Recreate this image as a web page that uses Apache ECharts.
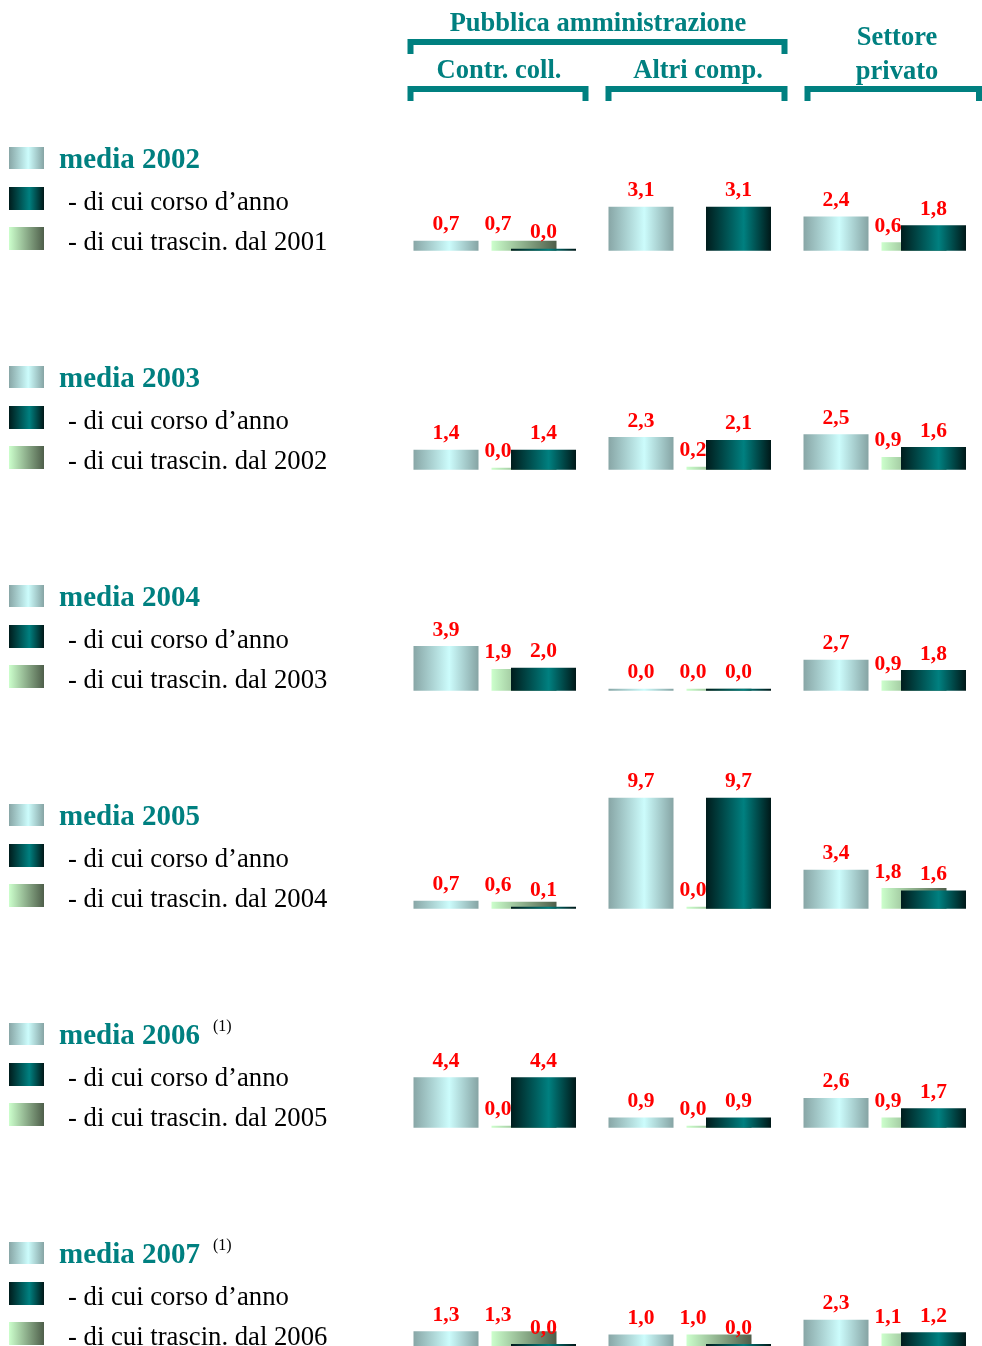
<!DOCTYPE html>
<html>
<head>
<meta charset="utf-8">
<script src="https://cdn.jsdelivr.net/npm/echarts@6/dist/echarts.min.js"></script>
<style>
    html, body { margin: 0; padding: 0; background: #ffffff; }
    #chart { width: 982px; height: 1346px; }
</style>
</head>
<body>
<div id="chart"></div>
<script>
var years = ['2002', '2003', '2004', '2005', '2006', '2007'];
var categories = ['Contr. coll.', 'Altri comp.', 'Settore privato'];
// per anno: [Contr. coll., Altri comp., Settore privato]
var media = [[0.7, 3.1, 2.4], [1.4, 2.3, 2.5], [3.9, 0.0, 2.7], [0.7, 9.7, 3.4], [4.4, 0.9, 2.6], [1.3, 1.0, 2.3]];
var corsoAnno = [[0.0, 3.1, 1.8], [1.4, 2.1, 1.6], [2.0, 0.0, 1.8], [0.1, 9.7, 1.6], [4.4, 0.9, 1.7], [0.0, 0.0, 1.2]];
var trascinamento = [[0.7, null, 0.6], [0.0, 0.2, 0.9], [1.9, 0.0, 0.9], [0.6, 0.0, 1.8], [0.0, 0.0, 0.9], [1.3, 1.0, 1.1]];
var notes = ['', '', '', '', '(1)', '(1)'];

var teal = '#008080';
var serif = "'Liberation Serif', 'Times New Roman', serif";

function grad(stops) {
    return new echarts.graphic.LinearGradient(0, 0, 1, 0, stops.map(function (s) {
        return {offset: s[0], color: s[1]};
    }));
}
var mediaColor = [[0, '#88a6a6'], [0.55, '#ccfcfc'], [1, '#86a4a4']];
var corsoColor = [[0, '#001c1c'], [0.58, '#008080'], [1, '#001818']];
var trascinColor = [[0, '#ccffcc'], [1, '#4e5e4a']];

var baselines = [250.7, 469.7, 690.7, 908.7, 1127.7, 1346.7];
var rowHeights = [142, 142, 114.5, 114.5, 114.5, 114.5];

function fmt(p) {
    return p.value == null ? '' : p.value.toFixed(1).replace('.', ',');
}

var grids = [], xAxes = [], yAxes = [], series = [], graphics = [];

years.forEach(function (year, r) {
    // left = centro della prima barra; le categorie stanno sui tick (boundaryGap false)
    var layers = [
        {name: 'media ' + year, data: media[r], left: 446, color: mediaColor, dx: 0},
        {name: 'trascin. dal ' + (year - 1), data: trascinamento[r], left: 524, color: trascinColor, dx: -26},
        {name: 'corso d\u2019anno', data: corsoAnno[r], left: 543.5, color: corsoColor, dx: 0}
    ];
    layers.forEach(function (l) {
        var idx = grids.length;
        grids.push({left: l.left, width: 390, top: baselines[r] - rowHeights[r], height: rowHeights[r]});
        xAxes.push({type: 'category', gridIndex: idx, data: categories, boundaryGap: false, show: false});
        yAxes.push({type: 'value', gridIndex: idx, min: 0, max: 10, show: false});
        series.push({
            name: l.name,
            type: 'bar',
            xAxisIndex: idx,
            yAxisIndex: idx,
            barWidth: 65,
            barMinHeight: 2,
            clip: false,
            data: l.data,
            itemStyle: {color: grad(l.color)},
            label: {
                show: true,
                position: 'top',
                distance: 5,
                offset: [l.dx, 0],
                formatter: fmt,
                color: '#ff0000',
                fontFamily: serif,
                fontWeight: 'bold',
                fontSize: 21.5
            },
            emphasis: {disabled: true},
            animation: false
        });
    });

    // legenda a sinistra
    var dy = 219 * r;
    graphics.push(
        {type: 'rect', shape: {x: 9, y: 147 + dy, width: 35, height: 22}, style: {fill: grad(mediaColor)}},
        {type: 'rect', shape: {x: 9, y: 187 + dy, width: 35, height: 23}, style: {fill: grad(corsoColor)}},
        {type: 'rect', shape: {x: 9, y: 227 + dy, width: 35, height: 23}, style: {fill: grad(trascinColor)}},
        {type: 'text', style: {x: 59, y: 160.5 + dy, text: 'media ' + year, font: 'bold 29px ' + serif, fill: teal, align: 'left', verticalAlign: 'middle'}},
        {type: 'text', style: {x: 68, y: 202.5 + dy, text: '- di cui corso d\u2019anno', font: '26.7px ' + serif, fill: '#000000', align: 'left', verticalAlign: 'middle'}},
        {type: 'text', style: {x: 68, y: 242.5 + dy, text: '- di cui trascin. dal ' + (year - 1), font: '26.7px ' + serif, fill: '#000000', align: 'left', verticalAlign: 'middle'}}
    );
    if (notes[r]) {
        graphics.push({type: 'text', style: {x: 213, y: 151 + dy, text: notes[r], font: '16px ' + serif, fill: '#000000', align: 'left', verticalAlign: 'middle'}});
    }
});

// intestazioni con parentesi
function bracket(x1, x2, y, y2) {
    return {type: 'polyline', shape: {points: [[x1, y2], [x1, y], [x2, y], [x2, y2]]}, style: {stroke: teal, lineWidth: 6, fill: null}};
}
function head(x, y, text) {
    return {type: 'text', style: {x: x, y: y, text: text, font: 'bold 26.5px ' + serif, fill: teal, align: 'center', verticalAlign: 'middle'}};
}
graphics.push(
    head(598, 24, 'Pubblica amministrazione'),
    bracket(410.5, 784.5, 42, 54),
    head(499, 71, categories[0]),
    head(698, 71, categories[1]),
    head(897, 38, 'Settore'),
    head(897, 72, 'privato'),
    bracket(410.5, 585.5, 89, 101),
    bracket(608.5, 784.5, 89, 101),
    bracket(807.5, 979, 89, 101)
);

var myChart = echarts.init(document.getElementById('chart'));
myChart.setOption({
    animation: false,
    grid: grids,
    xAxis: xAxes,
    yAxis: yAxes,
    series: series,
    graphic: graphics
});
</script>
</body>
</html>
